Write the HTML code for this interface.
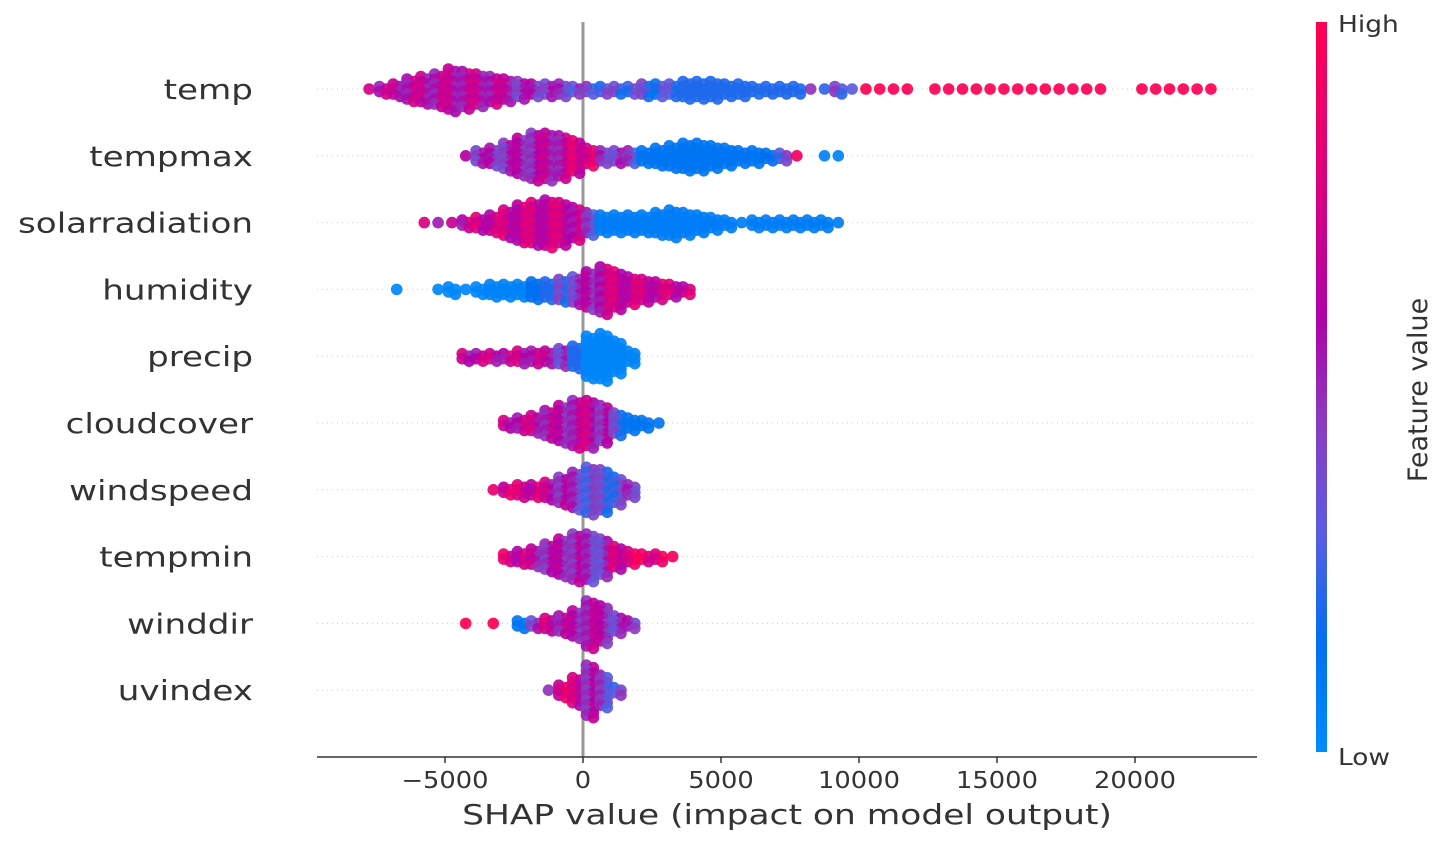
<!DOCTYPE html>
<html><head><meta charset="utf-8"><style>
body{margin:0;background:#fff;}
svg{display:block;font-family:"DejaVu Sans","Liberation Sans",sans-serif;}
</style></head><body>
<svg id="chart" width="1450" height="853" viewBox="0 0 1450 853">
<defs>
<linearGradient id="cbar" x1="0" y1="1" x2="0" y2="0">
<stop offset="0" stop-color="#008bfb"/><stop offset="0.15" stop-color="#0070f0"/>
<stop offset="0.3" stop-color="#5a5ce0"/><stop offset="0.45" stop-color="#8a3cc0"/>
<stop offset="0.6" stop-color="#b000a8"/><stop offset="0.8" stop-color="#e0007a"/>
<stop offset="1" stop-color="#ff0052"/></linearGradient>
</defs>
<g id="grid"></g>
<line x1="583" y1="22" x2="583" y2="757" stroke="#999" stroke-width="3"/>
<g id="dots"></g>
<g id="axis"></g>
<rect x="1316" y="22" width="11" height="730" fill="url(#cbar)"/>
<text x="1338" y="32" font-size="23" fill="#333" transform="translate(1338,0) scale(1.15,1) translate(-1338,0)">High</text>
<text x="1338" y="765" font-size="23" fill="#333" transform="translate(1338,0) scale(1.15,1) translate(-1338,0)">Low</text>
<text transform="translate(1427,390) rotate(-90)" text-anchor="middle" font-size="27" fill="#333">Feature value</text>
<text x="787" y="824" text-anchor="middle" font-size="28" fill="#333" transform="translate(787,0) scale(1.23,1) translate(-787,0)">SHAP value (impact on model output)</text>
</svg>
<script>
const features=["temp","tempmax","solarradiation","humidity","precip","cloudcover","windspeed","tempmin","winddir","uvindex"];
const binWidth=500;
const binStart=[-8000,-4500,-6000,-7000,-4500,-3000,-3500,-3000,-4500,-1500];
const counts=[
[1,2,3,5,6,7,9,8,7,6,5,4,3,3,3,2,2,2,2,2,3,3,3,4,4,4,3,3,2,2,2,2,1,1,2,1,1,1,1,1,0,1,1,1,1,1,1,1,1,1,1,1,1,1,0,0,1,1,1,1,1,1],
[1,3,4,6,8,10,10,9,7,4,3,3,3,3,4,5,6,6,5,4,3,3,2,2,1,0,1,1],
[1,1,1,2,3,4,6,8,9,10,9,7,5,4,4,4,4,5,6,5,4,3,2,1,2,2,2,2,2,2,1],
[1,0,0,1,2,1,2,3,3,3,4,4,5,6,8,10,8,6,5,4,3,2],
[2,2,2,2,3,3,3,4,5,9,10,7,3],
[2,3,4,6,8,10,10,8,5,3,2,1],
[1,2,3,3,4,6,8,10,9,6,3],
[2,3,4,6,8,10,10,8,5,3,2,2,1],
[1,0,1,0,2,2,3,4,6,10,8,4,2],
[1,3,6,11,7,2]];
const colors=[
[.62,.62,.62,.62,.62,.62,.62,.62,.62,.62,.6,.5,.5,.5,.45,.4,.35,.3,.3,.3,.3,.25,.25,.2,.2,.2,.2,.2,.2,.2,.2,.2,.35,.35,.35,.35,1,1,1,1,1,1,1,1,1,1,1,1,1,1,1,1,1,1,1,1,1,1,1,1,1,1],
[.5,.5,.5,.5,.55,.55,.6,.6,.75,.8,.45,.45,.4,.12,.12,.12,.12,.12,.12,.12,.12,.12,.15,.35,.8,.05,.05,.05],
[.65,.65,.65,.65,.7,.7,.7,.7,.7,.7,.7,.65,.4,.08,.08,.08,.08,.08,.08,.08,.08,.08,.08,.08,.08,.08,.08,.08,.08,.08,.08],
[.02,.02,.02,.02,.02,.02,.02,.05,.05,.05,.15,.2,.3,.45,.55,.65,.7,.7,.7,.7,.7,.7],
[.65,.65,.65,.65,.65,.65,.6,.45,.2,.03,.03,.03,.03],
[.65,.65,.65,.6,.55,.6,.65,.55,.3,.12,.12,.12],
[.75,.75,.75,.7,.65,.55,.45,.35,.3,.3,.45],
[.8,.7,.6,.55,.55,.55,.45,.45,.7,.85,.85,.85,.85],
[1,1,1,1,.12,.45,.7,.6,.55,.6,.55,.45,.5],
[.35,.8,.7,.55,.4,.35]];
const ticks=[-5000,0,5000,10000,15000,20000];
const tickLabels=["\u22125000","0","5000","10000","15000","20000"];

const NS="http://www.w3.org/2000/svg";
const x0=583,pxPer=27.6/1000;
function xScale(v){return x0+v*pxPer;}
const rowY0=89,rowStep=66.8;
function yScale(i){return rowY0+i*rowStep;}
const stops=[[0,[0,139,251]],[.15,[0,112,240]],[.3,[90,92,224]],[.45,[138,60,192]],[.6,[176,0,168]],[.8,[224,0,122]],[1,[255,0,82]]];
function cmap(t){t=Math.max(0,Math.min(1,t));for(let k=1;k<stops.length;k++){if(t<=stops[k][0]){const a=stops[k-1],b=stops[k],f=(t-a[0])/(b[0]-a[0]);const c=a[1].map((v,i)=>Math.round(v+(b[1][i]-v)*f));return `rgb(${c})`;}}return "rgb(255,0,82)";}
const grid=document.getElementById('grid'),dots=document.getElementById('dots'),axis=document.getElementById('axis'),svg=document.getElementById('chart');
const jit=[0.12,-0.12,0.05,-0.05];
features.forEach((f,i)=>{
  const y=yScale(i);
  const l=document.createElementNS(NS,'line');
  l.setAttribute('x1',317);l.setAttribute('x2',1257);l.setAttribute('y1',y);l.setAttribute('y2',y);
  l.setAttribute('stroke','#ccc');l.setAttribute('stroke-width','1');l.setAttribute('stroke-dasharray','1 4');
  
  
  grid.appendChild(l);
  const t=document.createElementNS(NS,'text');
  t.setAttribute('x',253);t.setAttribute('y',y+10);t.setAttribute('text-anchor','end');
  t.setAttribute('font-size','28');t.setAttribute('fill','#333');t.textContent=f;
  t.setAttribute('transform','translate(253,0) scale(1.22,1) translate(-253,0)');
  
  
  svg.appendChild(t);
  const g=document.createElementNS(NS,'g');
  
  
  dots.appendChild(g);
  counts[i].forEach((n,b)=>{
    const v=binStart[i]+b*binWidth+binWidth/2;
    const cx=xScale(v);
    for(let j=0;j<n;j++){
      for(let s=0;s<2;s++){
        if(n===1&&s===1)continue;
        const c=document.createElementNS(NS,'circle');
        const dy=(j-(n-1)/2)*5+(s?2.5:0);
        const dx=s?3.5:-3.5;
        let tc=colors[i][b];
        if(tc>0.2&&tc<0.95) tc+=jit[(j*2+s+b)%4];
        c.setAttribute('cx',n===1?cx:cx+dx);c.setAttribute('cy',y+(n===1?0:dy));c.setAttribute('r',5.8);
        c.setAttribute('fill',cmap(tc));c.setAttribute('fill-opacity','0.92');
        
        
        g.appendChild(c);
      }
    }
  });
});
const al=document.createElementNS(NS,'line');
al.setAttribute('x1',317);al.setAttribute('x2',1257);al.setAttribute('y1',757);al.setAttribute('y2',757);al.setAttribute('stroke','#333');al.setAttribute('stroke-width','1.5');


axis.appendChild(al);
ticks.forEach((tv,k)=>{
  const x=xScale(tv);
  const tl=document.createElementNS(NS,'line');
  tl.setAttribute('x1',x);tl.setAttribute('x2',x);tl.setAttribute('y1',757);tl.setAttribute('y2',763);tl.setAttribute('stroke','#333');tl.setAttribute('stroke-width','1.5');
  
  
  axis.appendChild(tl);
  const tt=document.createElementNS(NS,'text');
  tt.setAttribute('x',x);tt.setAttribute('y',788);tt.setAttribute('text-anchor','middle');tt.setAttribute('font-size','23');tt.setAttribute('fill','#333');
  tt.setAttribute('transform','translate('+x+',0) scale(1.12,1) translate('+(-x)+',0)');
  tt.textContent=tickLabels[k];
  
  
  axis.appendChild(tt);
});
</script>
</body></html>
